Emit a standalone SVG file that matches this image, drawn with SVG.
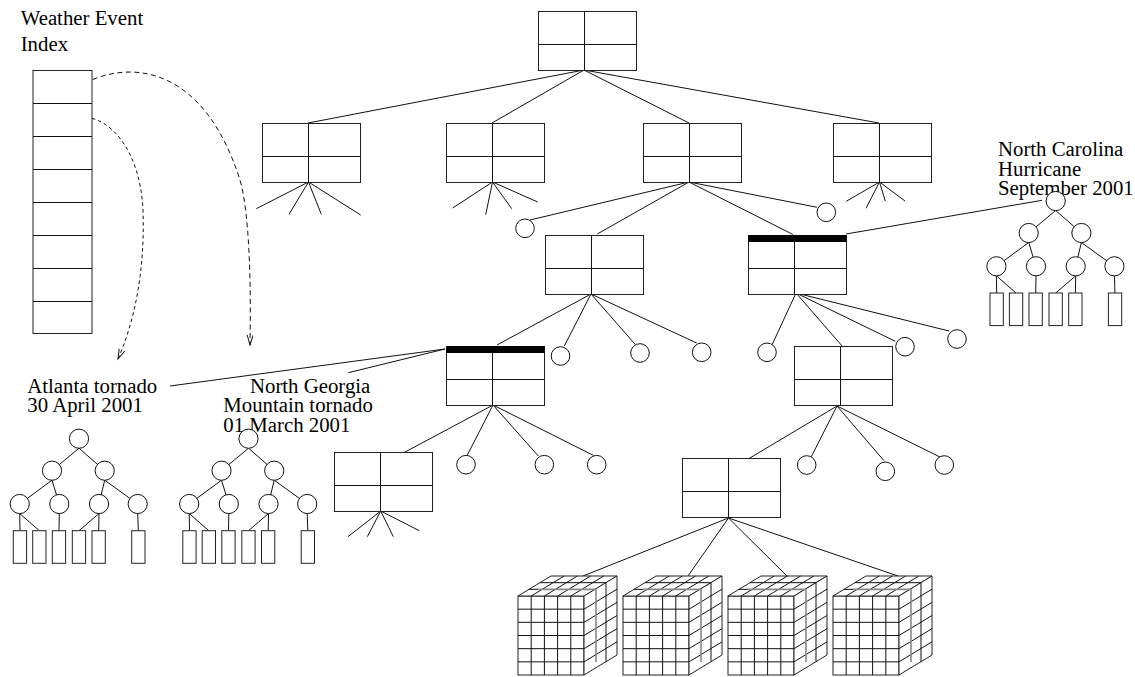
<svg xmlns="http://www.w3.org/2000/svg" xmlns:xlink="http://www.w3.org/1999/xlink" width="1135" height="677" viewBox="0 0 1135 677">
<style>
.ln{stroke:#111;stroke-width:1;fill:none}
.box{stroke:#222;stroke-width:1;fill:#fff}
.gr{stroke:#888;stroke-width:1.6;fill:none}
.nd{stroke:#111;stroke-width:1;fill:#fff}
.lbl{font-family:"Liberation Serif","Times New Roman",serif;font-size:20.8px;fill:#000}
.dash1{stroke:#111;stroke-width:1;fill:none;stroke-dasharray:5,3.5}
.dash2{stroke:#111;stroke-width:1;fill:none;stroke-dasharray:3.5,3}
</style>
<defs>
<marker id="vh" markerUnits="userSpaceOnUse" markerWidth="12" markerHeight="8" refX="10" refY="3" orient="auto">
<path d="M0,0 L10,3 L0,6" fill="none" stroke="#111" stroke-width="1"/>
</marker>
<g id="tbl">
<rect class="box" x="0.5" y="0.5" width="98" height="59"/>
<line class="ln" x1="46.5" y1="0.5" x2="46.5" y2="59.5"/>
<line class="ln" x1="0.5" y1="33.5" x2="98.5" y2="33.5"/>
</g>
<g id="tblbar">
<use xlink:href="#tbl"/>
<rect x="0.5" y="0" width="98" height="7" fill="#000"/>
</g>
<g id="stree">
<g class="ln">
<line x1="0" y1="9.5" x2="-27" y2="32"/>
<line x1="0" y1="9.5" x2="25.7" y2="32"/>
<line x1="-27" y1="41.5" x2="-59.3" y2="65.3"/>
<line x1="-27" y1="41.5" x2="-19.7" y2="65.3"/>
<line x1="25.7" y1="41.5" x2="20" y2="65.3"/>
<line x1="25.7" y1="41.5" x2="58.7" y2="65.3"/>
<line x1="-59.3" y1="74.8" x2="-59" y2="92"/>
<line x1="-59.3" y1="74.8" x2="-39.7" y2="92"/>
<line x1="-19.7" y1="74.8" x2="-20" y2="92"/>
<line x1="20" y1="74.8" x2="0" y2="92"/>
<line x1="20" y1="74.8" x2="19.7" y2="92"/>
<line x1="58.7" y1="74.8" x2="59.3" y2="92"/>
</g>
<circle class="nd" cx="0" cy="0" r="9.6"/>
<circle class="nd" cx="-27" cy="32" r="9.6"/>
<circle class="nd" cx="25.7" cy="32" r="9.6"/>
<circle class="nd" cx="-59.3" cy="65.3" r="9.6"/>
<circle class="nd" cx="-19.7" cy="65.3" r="9.6"/>
<circle class="nd" cx="20" cy="65.3" r="9.6"/>
<circle class="nd" cx="58.7" cy="65.3" r="9.6"/>
<rect class="box" x="-65.7" y="92" width="13.3" height="32.6"/>
<rect class="box" x="-46.3" y="92" width="13.3" height="32.6"/>
<rect class="box" x="-26.7" y="92" width="13.3" height="32.6"/>
<rect class="box" x="-6.7" y="92" width="13.3" height="32.6"/>
<rect class="box" x="13" y="92" width="13.3" height="32.6"/>
<rect class="box" x="52.7" y="92" width="13.3" height="32.6"/>
</g>
<g id="cube">
<rect class="box" x="0" y="0" width="66" height="79"/>
<polygon class="box" points="0,0 66,0 99,-20 33,-20"/>
<polygon class="box" points="66,0 99,-20 99,59 66,79"/>
<g class="ln">
<line x1="13.2" y1="0" x2="13.2" y2="79"/>
<line x1="26.4" y1="0" x2="26.4" y2="79"/>
<line x1="39.6" y1="0" x2="39.6" y2="79"/>
<line x1="52.8" y1="0" x2="52.8" y2="79"/>
<line x1="0" y1="13.17" x2="66" y2="13.17"/>
<line x1="0" y1="26.33" x2="66" y2="26.33"/>
<line x1="0" y1="39.5" x2="66" y2="39.5"/>
<line x1="0" y1="52.67" x2="66" y2="52.67"/>
<line x1="0" y1="65.83" x2="66" y2="65.83"/>
<line x1="13.2" y1="0" x2="46.2" y2="-20"/>
<line x1="26.4" y1="0" x2="59.4" y2="-20"/>
<line x1="39.6" y1="0" x2="72.6" y2="-20"/>
<line x1="52.8" y1="0" x2="85.8" y2="-20"/>
<line x1="22" y1="-13.33" x2="88" y2="-13.33"/>
<line x1="66" y1="13.17" x2="99" y2="-6.83"/>
<line x1="66" y1="26.33" x2="99" y2="6.33"/>
<line x1="66" y1="39.5" x2="99" y2="19.5"/>
<line x1="66" y1="52.67" x2="99" y2="32.67"/>
<line x1="66" y1="65.83" x2="99" y2="45.83"/>
<line x1="88" y1="-13.33" x2="88" y2="65.67"/>
<line x1="11" y1="-6.67" x2="20" y2="-6.67"/>
</g>
<line class="gr" x1="20" y1="-6.67" x2="78" y2="-6.67"/>
<line class="gr" x1="78" y1="-6.67" x2="78" y2="66"/>
</g>
</defs>

<g id="labels">
<text class="lbl" x="20.7" y="25">Weather Event</text>
<text class="lbl" x="20.7" y="50.7">Index</text>
<text class="lbl" x="27.3" y="393.3">Atlanta tornado</text>
<text class="lbl" x="27.3" y="412.3">30 April 2001</text>
<text class="lbl" x="250" y="393.3">North Georgia</text>
<text class="lbl" x="223.3" y="412">Mountain tornado</text>
<text class="lbl" x="223.3" y="431.5">01 March 2001</text>
<text class="lbl" x="998" y="156">North Carolina</text>
<text class="lbl" x="998" y="176">Hurricane</text>
<text class="lbl" x="998" y="195">September 2001</text>
</g>

<g id="connectors">
<g class="ln">
<line x1="584" y1="70" x2="308" y2="123"/>
<line x1="584" y1="70" x2="492" y2="123"/>
<line x1="584" y1="70" x2="689" y2="123"/>
<line x1="584" y1="70" x2="879" y2="123"/>
<line x1="308.5" y1="182" x2="256.3" y2="208.7"/>
<line x1="308.5" y1="182" x2="289" y2="214.3"/>
<line x1="308.5" y1="182" x2="321.3" y2="214.3"/>
<line x1="308.5" y1="182" x2="360.7" y2="215"/>
<line x1="492.5" y1="182" x2="452.7" y2="208"/>
<line x1="492.5" y1="182" x2="485.7" y2="214.7"/>
<line x1="492.5" y1="182" x2="511.7" y2="208.7"/>
<line x1="492.5" y1="182" x2="537.7" y2="202"/>
<line x1="879.5" y1="182" x2="846.3" y2="201.3"/>
<line x1="879.5" y1="182" x2="866" y2="208.3"/>
<line x1="879.5" y1="182" x2="885.3" y2="201"/>
<line x1="879.5" y1="182" x2="905" y2="201"/>
<line x1="689" y1="182" x2="530" y2="220"/>
<line x1="689" y1="182" x2="817" y2="207.3"/>
<line x1="689" y1="182" x2="597.3" y2="234"/>
<line x1="689" y1="182" x2="793" y2="234.5"/>
<line x1="591" y1="294" x2="497" y2="345"/>
<line x1="591" y1="294" x2="564.3" y2="346"/>
<line x1="591" y1="294" x2="635.3" y2="344.5"/>
<line x1="591" y1="294" x2="696.7" y2="343"/>
<line x1="796" y1="293" x2="772.3" y2="344.3"/>
<line x1="796" y1="293" x2="842.7" y2="346.7"/>
<line x1="796" y1="293" x2="895.3" y2="341.3"/>
<line x1="796" y1="293" x2="949" y2="331"/>
<line x1="493" y1="405" x2="399" y2="455.3"/>
<line x1="493" y1="405" x2="467" y2="455.7"/>
<line x1="493" y1="405" x2="538.3" y2="456"/>
<line x1="493" y1="405" x2="593.3" y2="455.3"/>
<line x1="380.7" y1="511" x2="348" y2="536.7"/>
<line x1="380.7" y1="511" x2="367.3" y2="536.7"/>
<line x1="380.7" y1="511" x2="393.3" y2="536.7"/>
<line x1="380.7" y1="511" x2="419.3" y2="530.7"/>
<line x1="837" y1="406" x2="746" y2="460.3"/>
<line x1="837" y1="406" x2="811.3" y2="456.7"/>
<line x1="837" y1="406" x2="884" y2="460.7"/>
<line x1="837" y1="406" x2="942" y2="458"/>
<line x1="728.5" y1="518" x2="583" y2="576"/>
<line x1="728.5" y1="518" x2="688" y2="576"/>
<line x1="728.5" y1="518" x2="787" y2="576"/>
<line x1="728.5" y1="518" x2="898" y2="576"/>
<line x1="846" y1="234" x2="1042" y2="200.3"/>
<line x1="170" y1="386" x2="445" y2="349"/>
<line x1="348.3" y1="372.7" x2="445" y2="349"/>
</g>
<path class="dash1" d="M85,83 C135,58 205,70 240,180 C250,215 251,290 250,345" marker-end="url(#vh)"/>
<path class="dash2" d="M79,117 C110,115 140,150 143,210 C145,270 135,320 118,359" marker-end="url(#vh)"/>
</g>

<g id="index">
<rect class="box" x="33" y="70.5" width="59" height="263"/>
<g class="ln">
<line x1="33" y1="103.5" x2="92" y2="103.5"/>
<line x1="33" y1="136.5" x2="92" y2="136.5"/>
<line x1="33" y1="169.5" x2="92" y2="169.5"/>
<line x1="33" y1="202.5" x2="92" y2="202.5"/>
<line x1="33" y1="235.5" x2="92" y2="235.5"/>
<line x1="33" y1="268.5" x2="92" y2="268.5"/>
<line x1="33" y1="301.5" x2="92" y2="301.5"/>
</g>
</g>

<g id="root"><use xlink:href="#tbl" x="538" y="11"/></g>
<g id="n1a"><use xlink:href="#tbl" x="262" y="123"/></g>
<g id="n1b"><use xlink:href="#tbl" x="446" y="123"/></g>
<g id="n1c"><use xlink:href="#tbl" x="643" y="123"/></g>
<g id="n1d"><use xlink:href="#tbl" x="833" y="123"/></g>
<g id="n2a"><use xlink:href="#tbl" x="545" y="235"/></g>
<g id="n2b"><use xlink:href="#tblbar" x="748" y="235"/></g>
<g id="n3a"><use xlink:href="#tblbar" x="446" y="346"/></g>
<g id="n3b"><use xlink:href="#tbl" x="794" y="346"/></g>
<g id="n4a"><use xlink:href="#tbl" x="334" y="452"/></g>
<g id="n4b"><use xlink:href="#tbl" x="682" y="458"/></g>

<g id="leaves">
<circle class="nd" cx="525" cy="228.3" r="9.3"/>
<circle class="nd" cx="826.3" cy="212.3" r="9.3"/>
<circle class="nd" cx="560.5" cy="356" r="9.3"/>
<circle class="nd" cx="640" cy="353" r="9.3"/>
<circle class="nd" cx="701.7" cy="352.3" r="9.3"/>
<circle class="nd" cx="767" cy="352.3" r="9.3"/>
<circle class="nd" cx="905" cy="346.7" r="9.3"/>
<circle class="nd" cx="957" cy="339" r="9.3"/>
<circle class="nd" cx="466" cy="464.7" r="9.3"/>
<circle class="nd" cx="544.3" cy="464.7" r="9.3"/>
<circle class="nd" cx="596.7" cy="464.7" r="9.3"/>
<circle class="nd" cx="806.7" cy="465" r="9.3"/>
<circle class="nd" cx="885.3" cy="471.3" r="9.3"/>
<circle class="nd" cx="944.3" cy="465" r="9.3"/>
</g>

<g id="tree-atlanta"><use xlink:href="#stree" x="79" y="438.7"/></g>
<g id="tree-ngeorgia"><use xlink:href="#stree" x="248.5" y="438.7"/></g>
<g id="tree-ncarolina"><use xlink:href="#stree" x="1055.7" y="201"/></g>

<g id="cube1"><use xlink:href="#cube" x="518" y="596"/></g>
<g id="cube2"><use xlink:href="#cube" x="623" y="596"/></g>
<g id="cube3"><use xlink:href="#cube" x="728" y="596"/></g>
<g id="cube4"><use xlink:href="#cube" x="833" y="596"/></g>
</svg>
